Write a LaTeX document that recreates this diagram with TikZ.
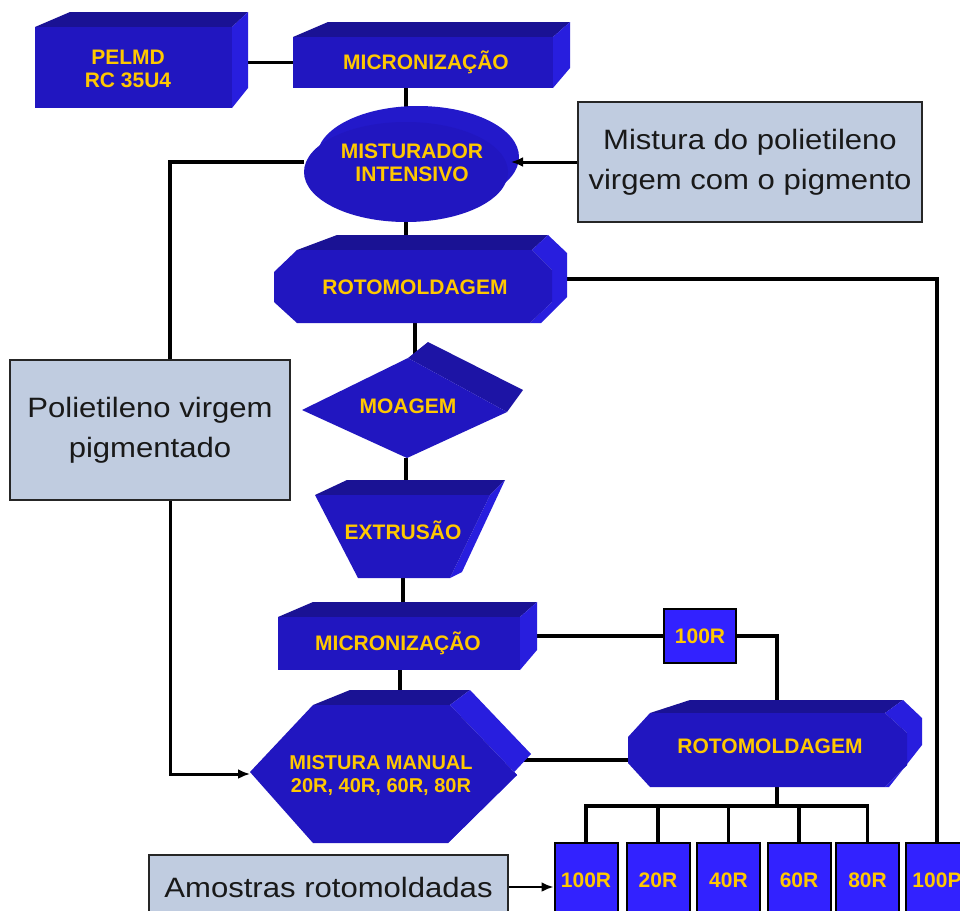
\documentclass[tikz,border=0pt]{standalone}
\usepackage{fontspec}
\setmainfont{Liberation Sans}
\newfontfamily\widefont[FakeStretch=1.11]{Liberation Sans}
\usetikzlibrary{arrows.meta,calc,shapes.geometric}
\definecolor{frontc}{RGB}{33,22,192}
\definecolor{topc}{RGB}{26,18,148}
\definecolor{sidec}{RGB}{40,30,222}
\definecolor{smallc}{RGB}{50,34,255}
\definecolor{labc}{RGB}{255,200,0}
\definecolor{palec}{RGB}{192,204,224}
\pgfdeclarelayer{bg}\pgfdeclarelayer{paper}\pgfsetlayers{paper,bg,main}
\tikzset{
  lbl/.style={text=labc, font=\bfseries\fontsize{21}{23}\selectfont, align=center, inner sep=0pt},
  anc/.style={inner sep=0pt, outer sep=0pt, draw=none},
  conn/.style={line width=3.5pt, black},
  arr/.style={line width=3pt, black, -{Latex[length=12pt,width=10pt]}},
  pale/.style={draw=black!85, line width=2pt, fill=palec, text=black!90, align=center,
    font=\widefont\fontsize{28}{40}\selectfont, inner sep=0pt},
  sbox/.style={draw=black, line width=2pt, fill=smallc, text=labc,
    font=\bfseries\fontsize{21}{23}\selectfont, inner sep=0pt, minimum width=63pt, minimum height=74pt}
}
\begin{document}
\begin{tikzpicture}[x=1pt,y=-1pt]
\useasboundingbox (0,0) rectangle (960,910);
\clip (0,0) rectangle (960,910);
\begin{pgfonlayer}{paper}
\fill[white] (0,0) rectangle (960,910);
\end{pgfonlayer}

% PELMD
\fill[topc] (35,27) -- (70,12) -- (248,12) -- (232,27) -- cycle;
\fill[sidec] (232,27) -- (248,12) -- (248,88) -- (232,108) -- cycle;
\fill[frontc] (35,27) rectangle (232,108);
\node[anc, minimum width=197pt, minimum height=81pt] (pel) at (133.5,67.5) {};
\node[lbl] (tpel) at (128,69) {PELMD\\RC 35U4};

% MICRONIZACAO 1
\fill[topc] (293,37) -- (328,22) -- (570,22) -- (553,37) -- cycle;
\fill[sidec] (553,37) -- (570,22) -- (570,68) -- (553,88) -- cycle;
\fill[frontc] (293,37) rectangle (553,88);
\node[anc, minimum width=260pt, minimum height=51pt] (mic1) at (423,62.5) {};
\node[lbl] (tmic1) at (426,62) {MICRONIZAÇÃO};

% MISTURADOR
\fill[frontc!65!sidec] (418,157) ellipse [x radius=101pt, y radius=51pt];
\node[ellipse, fill=frontc, minimum width=204pt, minimum height=100pt, inner sep=0pt] (mis) at (406,172) {};
\node[lbl] (tmis) at (412,163) {MISTURADOR\\INTENSIVO};
\coordinate (misL) at (304,162);
\coordinate (misR) at (511,162);

% Mistura box
\node[pale, minimum width=344pt, minimum height=120pt] (mixb) at (750,162) {Mistura do polietileno\\virgem com o pigmento};

% ROTOMOLDAGEM 1
\fill[topc] (297,250) -- (337,235) -- (548,235) -- (532,250) -- cycle;
\fill[sidec] (532,250) -- (548,235) -- (567,253) -- (567,297) -- (541,323) -- (530,323) -- (552,302) -- (552,270) -- cycle;
\fill[frontc] (274,272) -- (297,250) -- (532,250) -- (552,270) -- (552,302) -- (530,323) -- (297,323) -- (274,302) -- cycle;
\node[anc, minimum width=278pt, minimum height=73pt] (r1) at (411,286.5) {};
\node[lbl] (tr1) at (415,287) {ROTOMOLDAGEM};
\coordinate (r1E) at (566,279);

% Polietileno box
\node[pale, minimum width=280pt, minimum height=140pt] (pol) at (150,430) {Polietileno virgem\\pigmentado};
\coordinate (polX) at (170,430);

% MOAGEM
\fill[topc!60!frontc] (408,358) -- (428,342) -- (523,390) -- (507,412) -- cycle;
\fill[frontc] (302,410) -- (408,358) -- (507,412) -- (407,458) -- cycle;
\node[anc, minimum width=205pt, minimum height=100pt] (moa) at (406,408) {};
\node[lbl] (tmoa) at (408,406) {MOAGEM};

% EXTRUSAO
\fill[topc] (315,495) -- (347,480) -- (505,480) -- (490,495) -- cycle;
\fill[sidec] (490,495) -- (505,480) -- (462,572) -- (450,578) -- cycle;
\fill[frontc] (315,495) -- (490,495) -- (450,578) -- (358,578) -- cycle;
\node[anc, minimum width=175pt, minimum height=83pt] (ext) at (403,536.5) {};
\node[lbl] (text) at (403,530) {EXTRUSÃO};

% MICRONIZACAO 2
\fill[topc] (278,617) -- (313,602) -- (537,602) -- (520,617) -- cycle;
\fill[sidec] (520,617) -- (537,602) -- (537,650) -- (520,670) -- cycle;
\fill[frontc] (278,617) rectangle (520,670);
\node[anc, minimum width=242pt, minimum height=53pt] (mic2) at (400,643.5) {};
\node[lbl] (tmic2) at (398,643) {MICRONIZAÇÃO};
\coordinate (m2E) at (536,636);

% 100R middle
\node[sbox, minimum width=72pt, minimum height=54pt] (b100a) at (700,636) {100R};

% MISTURA MANUAL
\fill[topc] (313,705) -- (350,690) -- (470,690) -- (450,705) -- cycle;
\fill[sidec] (450,705) -- (470,690) -- (531,754) -- (448,843) -- (517,775) -- cycle;
\fill[frontc] (250,772) -- (313,705) -- (450,705) -- (517,775) -- (448,843) -- (313,843) -- cycle;
\node[anc, minimum width=267pt, minimum height=138pt] (mm) at (383.5,774) {};
\node[lbl, font=\bfseries\fontsize{20}{23}\selectfont] (tmm) at (381,776) {MISTURA MANUAL\\20R, 40R, 60R, 80R};
\coordinate (mmE) at (522,760);

% ROTOMOLDAGEM 2
\fill[topc] (650,713) -- (690,700) -- (903,700) -- (885,713) -- cycle;
\fill[sidec] (885,713) -- (903,700) -- (922,718) -- (922,745) -- (889,787) -- (885,787) -- (907,765) -- (907,733) -- cycle;
\fill[frontc] (628,737) -- (650,713) -- (885,713) -- (907,733) -- (907,765) -- (885,787) -- (650,787) -- (628,763) -- cycle;
\node[anc, minimum width=279pt, minimum height=74pt] (r2) at (777,750) {};
\node[lbl] (tr2) at (770,746) {ROTOMOLDAGEM};
\coordinate (r2N) at (777,705);

% bottom boxes
\node[sbox] (b1) at (586,880) {100R};
\node[sbox] (b2) at (658,880) {20R};
\node[sbox] (b3) at (728.5,880) {40R};
\node[sbox] (b4) at (799,880) {60R};
\node[sbox] (b5) at (867.5,880) {80R};
\node[sbox] (b6) at (937,880) {100P};
\coordinate (busy) at (0,806);

% Amostras
\node[pale, minimum width=359pt, minimum height=64pt] (am) at (328.5,887) {Amostras rotomoldadas};

% connectors
\begin{pgfonlayer}{bg}
\draw[conn] (mic1.west) -- (mic1.west -| pel.east);
\draw[conn] (mis.north |- mic1.south) -- (mis.north);
\draw[conn] (mis.south) -- (mis.south |- r1.north);
\draw[conn] (misL) -| (polX |- pol.north);
\draw[conn] (r1E) -| (b6.north);
\draw[conn] (tr1 |- r1.south) -- (tr1 |- moa.north);
\draw[conn] (moa.south) -- (moa.south |- ext.north);
\draw[conn] (ext.south) -- (ext.south |- mic2.north);
\draw[conn] (mic2.south) -- (mic2.south |- mm.north);
\draw[conn] (m2E) -- (m2E -| b100a.west);
\draw[conn] (b100a.east) -| (r2N);
\draw[conn] (mmE) -- (mmE -| r2.west);
\draw[conn] (r2.south) -- (r2.south |- busy);
\draw[conn] (b1.north) -- (b1.north |- busy) -| (b5.north);
\draw[conn] (b2.north) -- (b2.north |- busy);
\draw[conn] (b3.north) -- (b3.north |- busy);
\draw[conn] (b4.north) -- (b4.north |- busy);
\end{pgfonlayer}
\draw[arr] (mixb.west) -- (misR);
\draw[arr] (polX |- pol.south) |- (mm.west);
\draw[arr, line width=2.5pt] (am.east) -- (am.east -| b1.west);
\end{tikzpicture}
\end{document}
